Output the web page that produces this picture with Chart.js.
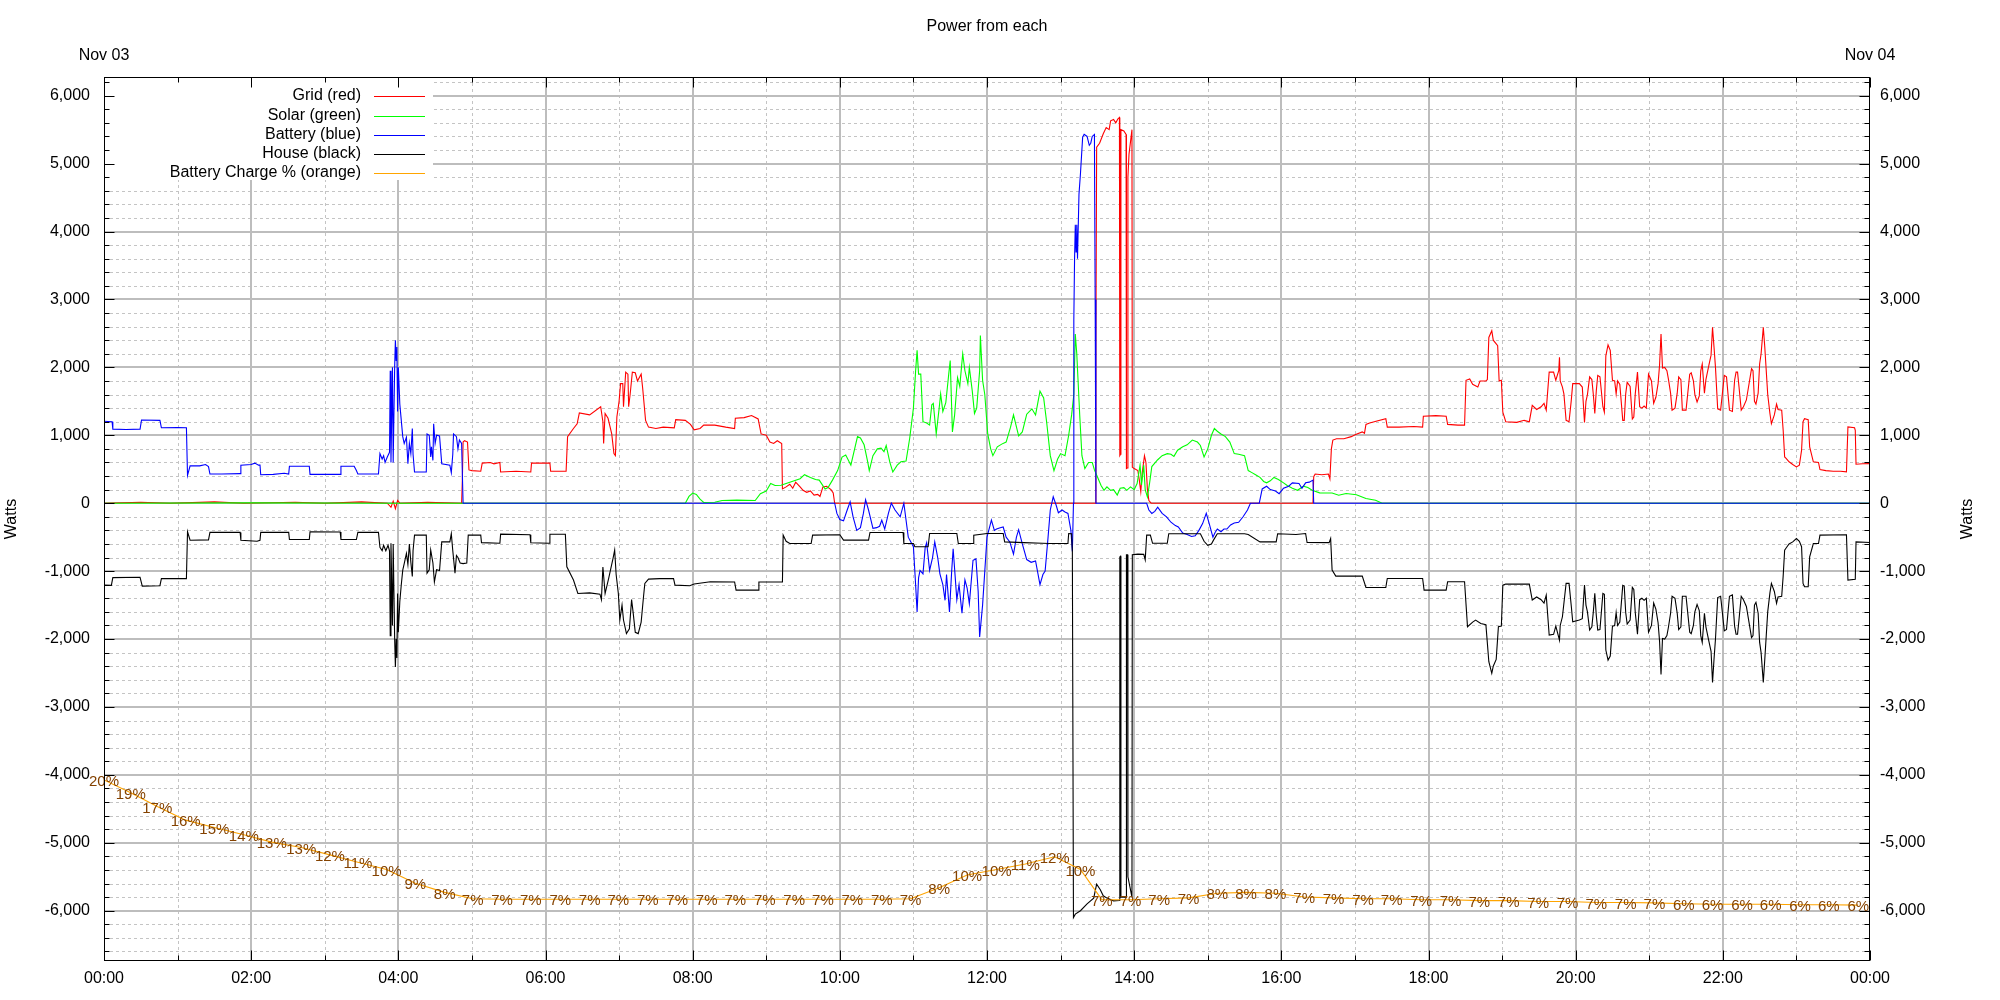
<!DOCTYPE html>
<html><head><meta charset="utf-8">
<script src="https://cdn.jsdelivr.net/npm/chart.js@4.4.1/dist/chart.umd.min.js"></script>
<style>html,body{margin:0;padding:0;background:#fff;}#wrap{width:2000px;height:1000px;}</style>
</head><body><div id="wrap"><canvas id="c" width="2000" height="1000"></canvas></div>
<script>
const chartTitle = 'Power from each';
const seriesNames = ['Grid (red)', 'Solar (green)', 'Battery (blue)', 'House (black)', 'Battery Charge % (orange)'];
const seriesColors = ['#ff0000', '#00ff00', '#0000ff', '#000000', '#ffa500'];
const chargeLabelColor = '#844200';
const xTickLabels = ['00:00','02:00','04:00','06:00','08:00','10:00','12:00','14:00','16:00','18:00','20:00','22:00','00:00'];
const xTickHours = [0,2,4,6,8,10,12,14,16,18,20,22,24];
const dateLabels = ['Nov 03', 'Nov 04'];
const yAxisTitle = 'Watts';
const yTickValues = [-6000,-5000,-4000,-3000,-2000,-1000,0,1000,2000,3000,4000,5000,6000];
const Y_MIN = -6740, Y_MAX = 6275, Y_MINOR = 200, Y_MAJOR = 1000;

// [hour of day, watts]
const gridSeries = [
[0,0],[0.5,15],[0.9,0],[1.5,20],[1.9,0],[2.6,15],[3.0,0],[3.5,20],[3.85,0],[3.9,-60],[3.93,30],[3.96,-80],[3.99,40],[4.02,0],[4.4,15],[4.86,0],
[4.87,340],[4.88,900],[4.90,920],[4.94,900],[4.96,490],[5.0,480],[5.12,470],[5.14,590],[5.25,600],[5.3,580],[5.38,600],[5.39,460],[5.6,470],[5.8,460],[5.81,590],[6.06,590],[6.07,470],[6.28,470],[6.30,980],[6.38,1100],[6.43,1170],[6.46,1330],[6.6,1300],[6.75,1420],[6.78,1200],[6.79,880],[6.81,1320],[6.85,1250],[6.9,1020],[6.93,730],[6.95,700],[6.97,1270],[7.0,1500],[7.02,1760],[7.05,1760],[7.06,1420],[7.09,1930],[7.12,1900],[7.13,1420],[7.15,1600],[7.18,1930],[7.22,1920],[7.25,1800],[7.30,1900],[7.32,1700],[7.36,1220],[7.40,1120],[7.5,1100],[7.6,1120],[7.75,1110],[7.77,1230],[7.9,1220],[7.97,1160],[8.02,1080],[8.1,1100],[8.15,1150],[8.3,1150],[8.45,1120],[8.57,1100],[8.58,1250],[8.7,1260],[8.8,1290],[8.89,1240],[8.93,1020],[9.0,1000],[9.05,900],[9.1,880],[9.15,920],[9.21,880],[9.22,210],[9.27,240],[9.32,280],[9.36,220],[9.4,310],[9.46,240],[9.5,190],[9.55,160],[9.6,180],[9.65,120],[9.7,130],[9.73,100],[9.77,240],[9.82,250],[9.88,200],[9.91,150],[9.93,0],
[13.47,0],[13.48,2450],[13.49,5240],[13.53,5300],[13.58,5440],[13.62,5530],[13.66,5500],[13.68,5630],[13.72,5650],[13.75,5600],[13.78,5660],[13.80,5680],[13.805,700],[13.815,720],[13.82,5500],[13.86,5480],[13.89,5430],[13.895,510],[13.91,520],[13.915,4800],[13.93,5140],[13.97,5500],[13.975,530],[14.0,510],[14.05,480],[14.07,340],[14.09,170],[14.11,450],[14.14,700],[14.16,600],[14.18,200],[14.2,40],[14.23,0],
[16.43,0],[16.44,390],[16.46,430],[16.55,420],[16.64,430],[16.66,360],[16.68,800],[16.70,930],[16.75,950],[16.85,950],[16.95,980],[17.01,1010],[17.10,1050],[17.13,1030],[17.15,1160],[17.2,1180],[17.3,1210],[17.42,1245],[17.44,1120],[17.6,1120],[17.8,1130],[17.92,1120],[17.93,1280],[18.1,1290],[18.24,1280],[18.26,1160],[18.4,1150],[18.49,1150],[18.51,1810],[18.56,1830],[18.6,1750],[18.67,1710],[18.70,1800],[18.78,1800],[18.80,1820],[18.82,2440],[18.86,2540],[18.88,2400],[18.94,2320],[18.96,1800],[18.99,1810],[19.01,1340],[19.05,1200],[19.2,1190],[19.3,1220],[19.37,1200],[19.41,1440],[19.47,1380],[19.53,1420],[19.57,1470],[19.60,1370],[19.64,1930],[19.70,1930],[19.73,1810],[19.77,1950],[19.78,2150],[19.79,1800],[19.82,1710],[19.84,1610],[19.87,1220],[19.91,1200],[19.94,1510],[19.96,1760],[20.05,1760],[20.09,1710],[20.12,1190],[20.14,1500],[20.16,1600],[20.19,1860],[20.22,1820],[20.24,1600],[20.26,1320],[20.28,1650],[20.30,1880],[20.33,1860],[20.37,1420],[20.39,1340],[20.41,2170],[20.44,2330],[20.47,2250],[20.50,1810],[20.53,1800],[20.55,1610],[20.57,1800],[20.6,1750],[20.64,1220],[20.66,1220],[20.68,1610],[20.70,1780],[20.74,1720],[20.77,1240],[20.79,1270],[20.81,1610],[20.84,1930],[20.87,1420],[20.9,1400],[20.93,1430],[20.96,1400],[20.99,1900],[21.03,1800],[21.06,1470],[21.09,1560],[21.12,1760],[21.14,2030],[21.16,2490],[21.18,1990],[21.21,2000],[21.24,1950],[21.26,1830],[21.29,1620],[21.31,1370],[21.35,1400],[21.38,1620],[21.40,1860],[21.43,1820],[21.45,1370],[21.5,1370],[21.55,1900],[21.57,1920],[21.6,1800],[21.62,1600],[21.65,1490],[21.68,1580],[21.70,1950],[21.72,2050],[21.75,1620],[21.77,1820],[21.81,2030],[21.84,2180],[21.86,2590],[21.88,2300],[21.90,2000],[21.93,1390],[21.97,1370],[22.02,1880],[22.05,1860],[22.07,1610],[22.09,1370],[22.13,1350],[22.16,1810],[22.18,1930],[22.20,1930],[22.22,1710],[22.25,1370],[22.28,1420],[22.32,1520],[22.39,1980],[22.41,1950],[22.43,1500],[22.45,1460],[22.48,1620],[22.50,2050],[22.52,2200],[22.55,2590],[22.57,2300],[22.59,1950],[22.61,1600],[22.64,1320],[22.66,1170],[22.70,1300],[22.73,1460],[22.75,1380],[22.80,1370],[22.82,1074],[22.84,680],[22.86,660],[22.9,610],[22.95,570],[23.0,535],[23.04,560],[23.07,780],[23.09,1200],[23.11,1245],[23.16,1230],[23.18,830],[23.23,610],[23.30,600],[23.32,495],[23.4,480],[23.5,470],[23.6,470],[23.68,461],[23.70,1123],[23.79,1110],[23.80,1074],[23.81,574],[23.9,580],[24.0,583]
];

const solarSeries = [
[0,0],[2.0,5],[4.0,0],[7.90,0],[7.95,100],[8.0,150],[8.05,130],[8.10,60],[8.15,10],[8.3,15],[8.4,40],[8.6,45],[8.85,40],[8.92,140],[9.0,180],[9.06,290],[9.12,260],[9.2,265],[9.3,300],[9.38,330],[9.46,360],[9.52,420],[9.6,380],[9.67,350],[9.72,340],[9.8,210],[9.84,230],[9.9,340],[9.97,480],[10.03,680],[10.08,710],[10.15,560],[10.24,980],[10.28,960],[10.33,860],[10.38,600],[10.40,480],[10.45,700],[10.51,800],[10.56,810],[10.60,760],[10.63,850],[10.68,600],[10.72,460],[10.78,560],[10.83,610],[10.90,620],[10.95,960],[11.0,1400],[11.03,1950],[11.05,2250],[11.07,1900],[11.10,1900],[11.13,1200],[11.18,1180],[11.22,1150],[11.25,1450],[11.27,1470],[11.31,1020],[11.35,1400],[11.37,1610],[11.40,1350],[11.44,1480],[11.48,1900],[11.50,2100],[11.53,1050],[11.56,1300],[11.60,1850],[11.63,1720],[11.67,2200],[11.70,1950],[11.74,1760],[11.76,2000],[11.80,1650],[11.83,1320],[11.86,1400],[11.90,1950],[11.91,2470],[11.94,1810],[11.97,1600],[12.01,1020],[12.05,800],[12.08,700],[12.14,830],[12.2,870],[12.26,900],[12.32,1120],[12.36,1300],[12.43,990],[12.48,1050],[12.54,1310],[12.61,1390],[12.66,1300],[12.72,1650],[12.77,1550],[12.81,1200],[12.86,700],[12.91,480],[12.96,650],[13.0,730],[13.06,700],[13.11,1000],[13.15,1300],[13.18,1600],[13.20,2490],[13.22,2200],[13.26,1300],[13.29,700],[13.33,510],[13.38,600],[13.43,600],[13.46,490],[13.50,390],[13.55,260],[13.59,190],[13.63,240],[13.68,190],[13.72,200],[13.77,120],[13.81,220],[13.86,230],[13.9,190],[13.95,240],[14.0,200],[14.04,290],[14.08,560],[14.10,270],[14.13,560],[14.15,200],[14.18,90],[14.21,300],[14.24,540],[14.28,590],[14.32,640],[14.38,700],[14.45,730],[14.5,720],[14.54,690],[14.59,780],[14.66,830],[14.72,860],[14.79,930],[14.86,900],[14.90,850],[14.95,680],[15.0,800],[15.05,1000],[15.09,1100],[15.13,1060],[15.18,1020],[15.24,980],[15.30,900],[15.36,730],[15.42,720],[15.50,700],[15.55,480],[15.6,450],[15.65,420],[15.71,380],[15.76,320],[15.80,300],[15.85,330],[15.90,380],[15.96,350],[16.03,300],[16.08,260],[16.15,220],[16.22,190],[16.30,250],[16.36,230],[16.42,190],[16.52,152],[16.69,150],[16.78,118],[16.88,142],[17.02,125],[17.15,69],[17.28,44],[17.37,0],[24,0]
];

const batterySeries = [
[0,1206],[0.11,1200],[0.12,1090],[0.3,1085],[0.49,1090],[0.51,1225],[0.76,1220],[0.78,1110],[1.0,1115],[1.12,1110],[1.135,410],[1.17,550],[1.3,550],[1.38,570],[1.42,540],[1.44,430],[1.6,430],[1.85,435],[1.86,560],[2.0,570],[2.05,590],[2.1,560],[2.12,560],[2.13,420],[2.3,425],[2.45,440],[2.51,430],[2.52,545],[2.79,545],[2.80,425],[3.21,425],[3.22,545],[3.40,545],[3.43,480],[3.45,430],[3.73,430],[3.75,730],[3.78,650],[3.80,700],[3.82,600],[3.85,680],[3.88,750],[3.89,1950],[3.90,600],[3.92,2000],[3.93,600],[3.95,2000],[3.96,2400],[3.97,2100],[3.98,2300],[3.99,1350],[4.0,2000],[4.02,1460],[4.04,1220],[4.06,980],[4.08,880],[4.11,970],[4.13,580],[4.15,880],[4.17,730],[4.19,1100],[4.20,720],[4.22,460],[4.38,460],[4.39,1020],[4.42,1000],[4.44,680],[4.45,830],[4.47,630],[4.48,1170],[4.50,880],[4.52,1000],[4.56,990],[4.59,580],[4.70,560],[4.72,450],[4.74,720],[4.75,1020],[4.79,980],[4.81,800],[4.83,930],[4.86,880],[4.88,0],
[9.93,0],[9.96,-150],[10.0,-240],[10.05,-260],[10.1,-100],[10.14,20],[10.18,-200],[10.23,-400],[10.28,-360],[10.32,-150],[10.35,50],[10.39,-100],[10.45,-370],[10.50,-360],[10.54,-340],[10.57,-250],[10.61,-380],[10.66,-150],[10.70,0],[10.75,-100],[10.82,-200],[10.87,0],[10.93,-500],[11.0,-640],[11.03,-1200],[11.05,-1600],[11.07,-1100],[11.09,-990],[11.13,-1040],[11.16,-650],[11.18,-580],[11.22,-990],[11.26,-800],[11.29,-570],[11.33,-800],[11.36,-1040],[11.40,-1200],[11.43,-1430],[11.45,-1050],[11.49,-1600],[11.52,-1000],[11.54,-670],[11.59,-1420],[11.62,-1200],[11.66,-1620],[11.70,-1130],[11.73,-1250],[11.76,-1480],[11.81,-840],[11.85,-820],[11.88,-1300],[11.90,-1970],[11.94,-1500],[11.97,-1000],[12.0,-500],[12.06,-250],[12.1,-400],[12.13,-380],[12.18,-360],[12.22,-350],[12.26,-500],[12.31,-570],[12.36,-750],[12.40,-500],[12.43,-390],[12.48,-600],[12.54,-830],[12.60,-870],[12.66,-850],[12.72,-1200],[12.76,-1050],[12.79,-1000],[12.83,-500],[12.86,-100],[12.90,95],[12.94,-30],[12.97,-140],[13.02,-100],[13.06,-130],[13.10,-150],[13.14,-400],[13.16,-710],[13.175,0],[13.18,2700],[13.19,3600],[13.20,4100],[13.21,3700],[13.22,4100],[13.23,3600],[13.25,4550],[13.27,4850],[13.30,5390],[13.32,5430],[13.36,5400],[13.39,5270],[13.41,5300],[13.43,5400],[13.46,5430],[13.47,3000],[13.48,0],
[14.17,0],[14.20,-100],[14.24,-150],[14.28,-120],[14.32,-60],[14.38,-150],[14.44,-200],[14.50,-280],[14.56,-330],[14.60,-350],[14.66,-440],[14.72,-460],[14.78,-490],[14.83,-480],[14.88,-400],[14.93,-300],[14.98,-150],[15.02,-300],[15.07,-500],[15.10,-430],[15.13,-380],[15.18,-420],[15.22,-380],[15.26,-380],[15.31,-320],[15.36,-290],[15.42,-280],[15.48,-200],[15.54,-100],[15.58,0],[15.70,0],[15.74,210],[15.80,250],[15.85,200],[15.92,180],[15.97,140],[16.03,220],[16.10,250],[16.15,300],[16.24,290],[16.28,220],[16.33,300],[16.38,310],[16.43,340],[16.44,0],[24,0]
];

const houseSeries = [
[0,-1206],[0.1,-1210],[0.12,-1095],[0.49,-1090],[0.52,-1220],[0.76,-1215],[0.78,-1110],[1.12,-1110],[1.135,-420],[1.17,-545],[1.42,-540],[1.44,-430],[1.85,-430],[1.86,-545],[2.08,-560],[2.12,-545],[2.13,-430],[2.51,-430],[2.52,-535],[2.79,-535],[2.80,-420],[3.21,-425],[3.22,-535],[3.43,-535],[3.45,-430],[3.73,-430],[3.75,-650],[3.78,-700],[3.80,-620],[3.83,-700],[3.86,-620],[3.88,-700],[3.89,-1950],[3.90,-590],[3.92,-1800],[3.93,-600],[3.95,-2000],[3.96,-2410],[3.97,-2000],[3.98,-2280],[3.99,-1330],[4.0,-1900],[4.02,-1450],[4.04,-1200],[4.06,-985],[4.08,-890],[4.11,-740],[4.13,-900],[4.15,-600],[4.17,-870],[4.19,-1080],[4.20,-700],[4.22,-470],[4.38,-470],[4.39,-1030],[4.42,-980],[4.44,-690],[4.47,-880],[4.49,-1160],[4.52,-980],[4.56,-990],[4.59,-570],[4.70,-570],[4.72,-450],[4.74,-700],[4.77,-1030],[4.79,-770],[4.81,-800],[4.84,-880],[4.88,-890],[4.93,-880],[4.95,-470],[5.12,-470],[5.13,-580],[5.38,-590],[5.39,-456],[5.79,-465],[5.80,-583],[6.05,-590],[6.06,-456],[6.27,-456],[6.29,-936],[6.38,-1130],[6.44,-1330],[6.6,-1320],[6.74,-1340],[6.76,-1420],[6.78,-940],[6.81,-1330],[6.86,-1100],[6.92,-800],[6.94,-690],[6.96,-1050],[6.99,-1330],[7.01,-1720],[7.04,-1500],[7.06,-1720],[7.10,-1920],[7.14,-1850],[7.17,-1420],[7.19,-1600],[7.22,-1900],[7.26,-1920],[7.30,-1750],[7.33,-1400],[7.35,-1180],[7.40,-1118],[7.55,-1110],[7.74,-1110],[7.76,-1206],[7.96,-1215],[8.02,-1190],[8.24,-1157],[8.57,-1160],[8.59,-1280],[8.89,-1280],[8.90,-1160],[9.22,-1160],[9.23,-470],[9.27,-560],[9.32,-593],[9.61,-593],[9.63,-470],[10.0,-465],[10.05,-544],[10.39,-544],[10.41,-431],[10.86,-431],[10.87,-593],[11.0,-593],[11.02,-642],[11.20,-642],[11.22,-446],[11.59,-446],[11.61,-593],[11.81,-593],[11.82,-470],[12.0,-446],[12.22,-446],[12.24,-569],[12.5,-580],[12.75,-590],[12.86,-593],[13.10,-593],[13.11,-446],[13.15,-450],[13.16,-716],[13.175,-6100],[13.20,-6050],[13.27,-6000],[13.36,-5900],[13.45,-5814],[13.49,-5610],[13.54,-5690],[13.58,-5780],[13.63,-5814],[13.72,-5854],[13.80,-5850],[13.805,-790],[13.815,-780],[13.82,-5800],[13.89,-5800],[13.895,-760],[13.91,-760],[13.915,-5500],[13.97,-5800],[13.975,-760],[14.05,-750],[14.13,-753],[14.15,-834],[14.17,-470],
[14.22,-470],[14.25,-590],[14.45,-590],[14.47,-450],[14.9,-450],[14.95,-560],[15.0,-620],[15.05,-600],[15.08,-540],[15.13,-450],[15.5,-450],[15.55,-460],[15.71,-570],[15.93,-570],[15.95,-450],[16.2,-460],[16.33,-446],[16.35,-578],[16.65,-580],[16.67,-520],[16.69,-985],[16.74,-1073],[17.10,-1073],[17.15,-1240],[17.42,-1240],[17.44,-1108],[17.92,-1108],[17.94,-1279],[18.24,-1279],[18.26,-1157],[18.49,-1157],[18.53,-1819],[18.6,-1750],[18.64,-1721],[18.71,-1770],[18.78,-1790],[18.82,-2333],[18.86,-2505],[18.88,-2400],[18.92,-2300],[18.95,-1819],[18.99,-1810],[19.01,-1206],[19.05,-1191],[19.37,-1191],[19.41,-1426],[19.47,-1380],[19.53,-1420],[19.57,-1470],[19.60,-1353],[19.64,-1941],[19.70,-1930],[19.73,-1810],[19.78,-2015],[19.79,-1800],[19.82,-1672],[19.87,-1181],[19.91,-1181],[19.94,-1510],[19.96,-1745],[20.05,-1720],[20.09,-1700],[20.12,-1206],[20.14,-1500],[20.16,-1600],[20.19,-1868],[20.22,-1820],[20.24,-1600],[20.26,-1328],[20.28,-1650],[20.30,-1868],[20.33,-1860],[20.37,-1328],[20.39,-1340],[20.41,-2162],[20.44,-2310],[20.47,-2250],[20.50,-1810],[20.53,-1800],[20.55,-1610],[20.57,-1800],[20.6,-1750],[20.64,-1210],[20.66,-1220],[20.68,-1610],[20.70,-1780],[20.74,-1720],[20.77,-1240],[20.79,-1270],[20.81,-1610],[20.84,-1930],[20.87,-1420],[20.9,-1400],[20.93,-1430],[20.96,-1400],[20.99,-1900],[21.03,-1800],[21.06,-1470],[21.09,-1560],[21.12,-1760],[21.14,-2030],[21.16,-2520],[21.18,-1990],[21.21,-2000],[21.24,-1950],[21.26,-1830],[21.29,-1620],[21.31,-1370],[21.35,-1400],[21.38,-1620],[21.40,-1860],[21.43,-1820],[21.45,-1370],[21.5,-1370],[21.55,-1900],[21.57,-1920],[21.6,-1800],[21.62,-1600],[21.65,-1490],[21.68,-1580],[21.70,-1950],[21.72,-2050],[21.75,-1620],[21.77,-1820],[21.81,-2030],[21.84,-2180],[21.86,-2640],[21.88,-2300],[21.90,-2000],[21.93,-1390],[21.97,-1370],[22.02,-1880],[22.05,-1860],[22.07,-1610],[22.09,-1370],[22.13,-1350],[22.16,-1810],[22.18,-1930],[22.20,-1930],[22.22,-1710],[22.25,-1370],[22.28,-1420],[22.32,-1520],[22.39,-1980],[22.41,-1950],[22.43,-1500],[22.45,-1460],[22.48,-1620],[22.50,-2050],[22.52,-2200],[22.55,-2640],[22.57,-2300],[22.59,-1950],[22.61,-1600],[22.64,-1320],[22.66,-1181],[22.70,-1300],[22.73,-1475],[22.75,-1380],[22.80,-1370],[22.82,-1074],[22.84,-690],[22.86,-660],[22.9,-600],[22.95,-570],[23.0,-520],[23.04,-560],[23.07,-640],[23.09,-1181],[23.11,-1230],[23.16,-1230],[23.18,-790],[23.23,-593],[23.30,-593],[23.32,-470],[23.68,-465],[23.70,-1132],[23.80,-1120],[23.81,-569],[24.0,-578]
];

// battery state of charge, drawn as a trace along the bottom of the plot
const chargeTimes = [0,0.363,0.724,1.11,1.50,1.90,2.28,2.68,3.07,3.45,3.84,4.23,4.63,5.01,5.41,5.80,6.20,6.60,6.99,7.39,7.79,8.19,8.58,8.98,9.38,9.77,10.17,10.57,10.96,11.35,11.73,12.13,12.52,12.92,13.27,13.56,13.95,14.34,14.74,15.13,15.52,15.92,16.31,16.71,17.11,17.50,17.90,18.30,18.69,19.09,19.49,19.89,20.28,20.68,21.07,21.47,21.86,22.26,22.65,23.05,23.44,23.84];
const chargePct = [20.0,18.6,17.1,15.6,14.8,14.0,13.2,12.6,11.8,11.0,10.2,8.7,7.7,7.0,6.95,6.95,6.95,6.95,6.95,6.95,6.95,6.95,6.95,6.95,6.95,6.95,6.95,6.95,7.0,8.2,9.6,10.2,10.8,11.6,10.2,6.9,6.9,7.0,7.1,7.6,7.7,7.6,7.2,7.1,7.0,7.0,6.9,6.9,6.8,6.8,6.7,6.7,6.6,6.6,6.55,6.45,6.4,6.4,6.4,6.35,6.35,6.3];
const CHARGE_BASE = -6766, CHARGE_WATTS_PER_PCT = 134.6;

const FONT = "'Liberation Sans', Arial, Helvetica, sans-serif";
const toXY = arr => arr.map(p => ({x: p[0], y: p[1]}));
const chargeXY = chargeTimes.map((t, i) => ({x: t, y: CHARGE_BASE + chargePct[i] * CHARGE_WATTS_PER_PCT}));

function line(ctx, x1, y1, x2, y2) { ctx.beginPath(); ctx.moveTo(x1, y1); ctx.lineTo(x2, y2); ctx.stroke(); }

const decor = {
  id: 'decor',
  beforeDatasetsDraw(chart) {
    const {ctx, chartArea: a, scales: {x, y}} = chart;
    ctx.save();
    ctx.beginPath(); ctx.rect(a.left, a.top, a.right - a.left, a.bottom - a.top); ctx.clip();
    ctx.strokeStyle = '#c4c4c4'; ctx.lineWidth = 1; ctx.setLineDash([3, 3]);
    for (let v = Math.ceil(Y_MIN / Y_MINOR) * Y_MINOR; v <= Y_MAX; v += Y_MINOR) {
      if (v % Y_MAJOR === 0) continue;
      const py = Math.round(y.getPixelForValue(v)) + 0.5;
      line(ctx, a.left, py, a.right, py);
    }
    for (let h = 1; h < 24; h += 2) {
      const px = Math.round(x.getPixelForValue(h)) + 0.5;
      line(ctx, px, a.top, px, a.bottom);
    }
    ctx.setLineDash([]); ctx.strokeStyle = '#bdbdbd'; ctx.lineWidth = 2;
    yTickValues.forEach(v => { const py = Math.round(y.getPixelForValue(v)); line(ctx, a.left, py, a.right, py); });
    xTickHours.forEach(h => { const px = Math.round(x.getPixelForValue(h)); line(ctx, px, a.top, px, a.bottom); });
    ctx.restore();
  },
  afterDraw(chart) {
    const {ctx, chartArea: a, scales: {x, y}} = chart;
    ctx.save();
    // charge labels
    const meta = chart.getDatasetMeta(4);
    ctx.font = '15px ' + FONT; ctx.fillStyle = chargeLabelColor; ctx.textAlign = 'center'; ctx.textBaseline = 'middle';
    meta.data.forEach((pt, i) => ctx.fillText(Math.round(chargePct[i]) + '%', pt.x, pt.y + 2));
    // key (opaque box)
    ctx.fillStyle = '#ffffff';
    ctx.fillRect(a.left + 1, a.top + 1, 328, 102);
    ctx.font = '16px ' + FONT; ctx.textAlign = 'right'; ctx.textBaseline = 'middle';
    const rowY = [96, 115.5, 134.7, 153.8, 173];
    seriesNames.forEach((n, i) => {
      ctx.fillStyle = '#000'; ctx.fillText(n, 361, rowY[i]);
      ctx.strokeStyle = seriesColors[i]; ctx.lineWidth = 1;
      line(ctx, 374, Math.round(rowY[i]) + 0.5, 425, Math.round(rowY[i]) + 0.5);
    });
    // border + inward ticks
    ctx.strokeStyle = '#000'; ctx.lineWidth = 1;
    const L = Math.round(a.left) + 0.5, R = Math.round(a.right) - 0.5, T = Math.round(a.top) + 0.5, B = Math.round(a.bottom) - 0.5;
    ctx.strokeRect(L, T, R - L, B - T);
    for (let v = Math.ceil(Y_MIN / Y_MINOR) * Y_MINOR; v <= Y_MAX; v += Y_MINOR) {
      const len = (v % Y_MAJOR === 0) ? 10 : 5;
      const py = Math.round(y.getPixelForValue(v)) + 0.5;
      line(ctx, L, py, L + len, py); line(ctx, R - len, py, R, py);
    }
    for (let h = 0; h <= 24; h += 1) {
      const len = (h % 2 === 0) ? 10 : 5;
      const px = Math.round(x.getPixelForValue(h)) + 0.5;
      line(ctx, px, B, px, B - len); line(ctx, px, T, px, T + len);
    }
    // texts
    ctx.fillStyle = '#000'; ctx.font = '16px ' + FONT; ctx.textAlign = 'center'; ctx.textBaseline = 'middle';
    ctx.fillText(chartTitle, (a.left + a.right) / 2, 27);
    ctx.fillText(dateLabels[0], x.getPixelForValue(0), 56);
    ctx.fillText(dateLabels[1], x.getPixelForValue(24), 56);
    const midY = (a.top + a.bottom) / 2;
    [12, 1968].forEach(px => {
      ctx.save(); ctx.translate(px, midY); ctx.rotate(-Math.PI / 2); ctx.fillText(yAxisTitle, 0, 0); ctx.restore();
    });
    ctx.restore();
  }
};

const tickFont = {family: FONT, size: 16};
const yAxisBase = {
  type: 'linear', min: Y_MIN, max: Y_MAX,
  afterBuildTicks: s => { s.ticks = yTickValues.map(v => ({value: v})); },
  ticks: {callback: v => v.toLocaleString('en-US'), font: tickFont, color: '#000', autoSkip: false},
  grid: {display: false, drawTicks: false}, border: {display: false}
};

new Chart(document.getElementById('c'), {
  type: 'line',
  data: {
    datasets: [
      {label: seriesNames[0], data: toXY(gridSeries), borderColor: seriesColors[0], order: 5},
      {label: seriesNames[1], data: toXY(solarSeries), borderColor: seriesColors[1], order: 4},
      {label: seriesNames[2], data: toXY(batterySeries), borderColor: seriesColors[2], order: 3},
      {label: seriesNames[3], data: toXY(houseSeries), borderColor: seriesColors[3], order: 2},
      {label: seriesNames[4], data: chargeXY, borderColor: seriesColors[4], order: 1}
    ]
  },
  options: {
    responsive: false, animation: false, devicePixelRatio: 1,
    layout: {padding: {top: 77, left: 0, right: 0, bottom: 0}},
    elements: {line: {borderWidth: 1.1, tension: 0, fill: false}, point: {radius: 0, hoverRadius: 0}},
    plugins: {legend: {display: false}, title: {display: false}, tooltip: {enabled: false}},
    events: [],
    scales: {
      x: {
        type: 'linear', min: 0, max: 24, position: 'bottom',
        afterBuildTicks: s => { s.ticks = xTickHours.map(h => ({value: h})); },
        afterFit: s => { s.height = 39; },
        ticks: {callback: (v, i) => xTickLabels[i], font: tickFont, color: '#000', padding: 8, maxRotation: 0, autoSkip: false},
        grid: {display: false, drawTicks: false}, border: {display: false}
      },
      y: Object.assign({}, yAxisBase, {position: 'left', afterFit: s => { s.width = 104; },
        ticks: Object.assign({}, yAxisBase.ticks, {padding: 14})}),
      y2: Object.assign({}, yAxisBase, {position: 'right', afterFit: s => { s.width = 130; },
        ticks: Object.assign({}, yAxisBase.ticks, {padding: 10})})
    }
  },
  plugins: [decor]
});
</script>
</body></html>
